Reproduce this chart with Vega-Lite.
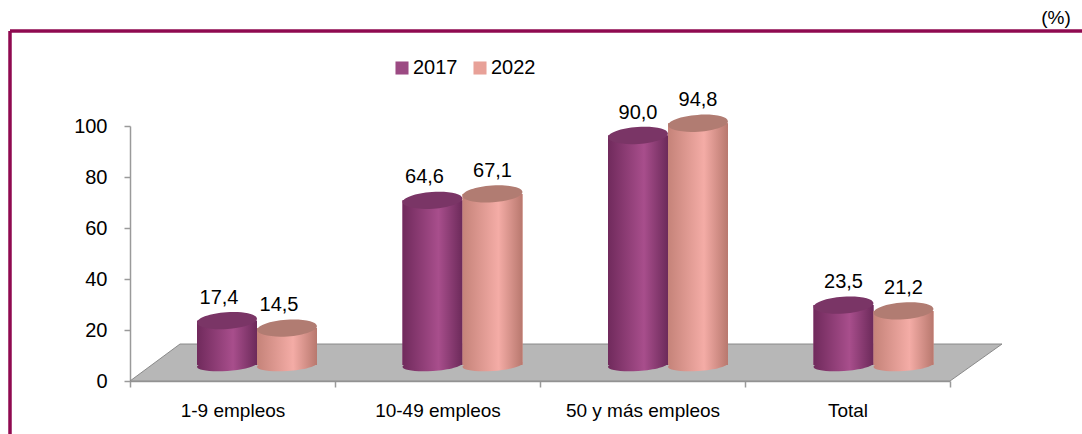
{
"$schema":"https://vega.github.io/schema/vega-lite/v6.json",
"width":820,"height":255,
"autosize":"none",
"padding":{"left":130,"top":126,"right":132,"bottom":53},
"background":"white",
"view":{"stroke":null},
"config":{"font":"Liberation Sans"},
"datasets":{
"bars":[
{"cat":"1-9 empleos","year":"2017","value":17.4,"label":"17,4"},
{"cat":"1-9 empleos","year":"2022","value":14.5,"label":"14,5"},
{"cat":"10-49 empleos","year":"2017","value":64.6,"label":"64,6"},
{"cat":"10-49 empleos","year":"2022","value":67.1,"label":"67,1"},
{"cat":"50 y más empleos","year":"2017","value":90.0,"label":"90,0"},
{"cat":"50 y más empleos","year":"2022","value":94.8,"label":"94,8"},
{"cat":"Total","year":"2017","value":23.5,"label":"23,5"},
{"cat":"Total","year":"2022","value":21.2,"label":"21,2"}
],
"floor":[{"u":0,"lo":0,"hi":0},{"u":50,"lo":0,"hi":14.5},{"u":820,"lo":0,"hi":14.5},{"u":872,"lo":14.5,"hi":14.5}]
},
"layer":[
{"data":{"values":[{"u":-120,"u2":952,"v":137.25,"v2":137.25},{"u":-120,"u2":-120,"v":137.25,"v2":-20.8}]},
 "mark":{"type":"rule","color":"#8f0a50","strokeWidth":3.5,"clip":false},
 "encoding":{"x":{"field":"u","type":"quantitative","scale":{"domain":[0,872],"range":[0,872]},"axis":null},
 "x2":{"field":"u2"},
 "y":{"field":"v","type":"quantitative","scale":{"domain":[0,100]},"axis":{"values":[0,20,40,60,80,100],"title":null,"grid":false,"domainColor":"#9a9a9a","domainWidth":1.5,"tickColor":"#9a9a9a","tickWidth":1.5,"tickSize":6,"labelFontSize":20,"labelColor":"#000","labelPadding":17}},
 "y2":{"field":"v2"}}},
{"data":{"name":"floor"},
 "mark":{"type":"area","color":"#b7b7b7","stroke":"#8a8a8a","strokeWidth":1,"opacity":1},
 "encoding":{"x":{"field":"u","type":"quantitative","scale":{"domain":[0,872],"range":[0,872]},"axis":null},
 "y":{"field":"lo","type":"quantitative"},
 "y2":{"field":"hi"}}},
{"data":{"name":"bars"},
 "mark":{"type":"text","opacity":0},
 "encoding":{"x":{"field":"cat","type":"nominal","sort":null,"scale":{"paddingInner":0,"paddingOuter":0},
 "axis":{"title":null,"labelAngle":0,"tickBand":"extent","domainColor":"#9a9a9a","domainWidth":1.5,"tickColor":"#9a9a9a","tickWidth":1.5,"tickSize":6,"labelFontSize":19,"labelColor":"#000","labelPadding":14}},
 "text":{"value":""}}},
{"data":{"name":"bars"},
 "mark":{"type":"bar","yOffset":-16,"y2Offset":-16},
 "encoding":{"x":{"field":"cat","type":"nominal","sort":null,"scale":{"paddingInner":0,"paddingOuter":0,"range":[24,846]},"axis":null},
 "xOffset":{"field":"year","scale":{"domain":["2017","2022"],"range":[43,163]}},
 "y":{"field":"value","type":"quantitative"},
 "fill":{"field":"year","type":"nominal","title":null,"scale":{"domain":["2017","2022"],"range":["#9c4a83","#e8a198"]},
  "legend":{"orient":"none","direction":"horizontal","legendX":262,"legendY":-68,"symbolType":"square","symbolSize":170,"symbolStrokeWidth":0,"labelFontSize":20,"labelColor":"#000","columns":2,"labelOffset":1,"columnPadding":12}}}},
{"data":{"name":"bars"},
 "transform":[{"filter":"datum.year==='2017'"}],
 "mark":{"type":"point","filled":true,"opacity":1,"shape":"M-1,0A1,0.2,0,1,0,1,0A1,0.2,0,1,0,-1,0Z","size":3600,"yOffset":-16,"angle":-4,"fill":{"x1":0,"x2":1,"y1":0,"y2":0,"gradient":"linear","stops":[{"offset":0,"color":"#702a5c"},{"offset":0.6,"color":"#a84e8c"},{"offset":1,"color":"#6c2a5a"}]}},
 "encoding":{"x":{"field":"cat","type":"nominal","sort":null,"scale":{"paddingInner":0,"paddingOuter":0,"range":[24,846]},"axis":null},
 "xOffset":{"field":"year"},
 "y":{"datum":0,"type":"quantitative"}}},
{"data":{"name":"bars"},
 "transform":[{"filter":"datum.year==='2017'"}],
 "mark":{"type":"bar","yOffset":-16,"y2Offset":-16,"fill":{"x1":0,"x2":1,"y1":0,"y2":0,"gradient":"linear","stops":[{"offset":0,"color":"#702a5c"},{"offset":0.6,"color":"#a84e8c"},{"offset":1,"color":"#6c2a5a"}]}},
 "encoding":{"x":{"field":"cat","type":"nominal","sort":null,"scale":{"paddingInner":0,"paddingOuter":0,"range":[24,846]},"axis":null},
 "xOffset":{"field":"year"},
 "y":{"field":"value","type":"quantitative"}}},
{"data":{"name":"bars"},
 "transform":[{"filter":"datum.year==='2017'"}],
 "mark":{"type":"point","filled":true,"opacity":1,"shape":"M-1,0A1,0.28,0,1,0,1,0A1,0.28,0,1,0,-1,0Z","size":3600,"yOffset":-16,"angle":-4,"fill":"#7a3566","stroke":null},
 "encoding":{"x":{"field":"cat","type":"nominal","sort":null,"scale":{"paddingInner":0,"paddingOuter":0,"range":[24,846]},"axis":null},
 "xOffset":{"field":"year"},
 "y":{"field":"value","type":"quantitative"}}},
{"data":{"name":"bars"},
 "transform":[{"filter":"datum.year==='2022'"}],
 "mark":{"type":"point","filled":true,"opacity":1,"shape":"M-1,0A1,0.2,0,1,0,1,0A1,0.2,0,1,0,-1,0Z","size":3600,"yOffset":-16,"angle":-4,"fill":{"x1":0,"x2":1,"y1":0,"y2":0,"gradient":"linear","stops":[{"offset":0,"color":"#c58379"},{"offset":0.6,"color":"#f4aca6"},{"offset":1,"color":"#b8786e"}]}},
 "encoding":{"x":{"field":"cat","type":"nominal","sort":null,"scale":{"paddingInner":0,"paddingOuter":0,"range":[24,846]},"axis":null},
 "xOffset":{"field":"year"},
 "y":{"datum":0,"type":"quantitative"}}},
{"data":{"name":"bars"},
 "transform":[{"filter":"datum.year==='2022'"}],
 "mark":{"type":"bar","yOffset":-16,"y2Offset":-16,"fill":{"x1":0,"x2":1,"y1":0,"y2":0,"gradient":"linear","stops":[{"offset":0,"color":"#c58379"},{"offset":0.6,"color":"#f4aca6"},{"offset":1,"color":"#b8786e"}]}},
 "encoding":{"x":{"field":"cat","type":"nominal","sort":null,"scale":{"paddingInner":0,"paddingOuter":0,"range":[24,846]},"axis":null},
 "xOffset":{"field":"year"},
 "y":{"field":"value","type":"quantitative"}}},
{"data":{"name":"bars"},
 "transform":[{"filter":"datum.year==='2022'"}],
 "mark":{"type":"point","filled":true,"opacity":1,"shape":"M-1,0A1,0.28,0,1,0,1,0A1,0.28,0,1,0,-1,0Z","size":3600,"yOffset":-16,"angle":-4,"fill":"#b17c72","stroke":null},
 "encoding":{"x":{"field":"cat","type":"nominal","sort":null,"scale":{"paddingInner":0,"paddingOuter":0,"range":[24,846]},"axis":null},
 "xOffset":{"field":"year"},
 "y":{"field":"value","type":"quantitative"}}},
{"data":{"name":"bars"},
 "transform":[{"filter":"datum.label!=='17,4' && datum.label!=='64,6' && datum.label!=='14,5'"}],
 "mark":{"type":"text","fontSize":20,"dy":-23,"color":"#000","yOffset":-16},
 "encoding":{"x":{"field":"cat","type":"nominal","sort":null,"scale":{"domain":["1-9 empleos","10-49 empleos","50 y más empleos","Total"],"paddingInner":0,"paddingOuter":0,"range":[24,846]},"axis":null},
 "xOffset":{"field":"year"},
 "y":{"field":"value","type":"quantitative"},
 "text":{"field":"label"}}},
{"data":{"name":"bars"},
 "transform":[{"filter":"datum.label==='17,4' || datum.label==='64,6' || datum.label==='14,5'"}],
 "mark":{"type":"text","fontSize":20,"dy":-23,"dx":-8,"color":"#000","yOffset":-16},
 "encoding":{"x":{"field":"cat","type":"nominal","sort":null,"scale":{"domain":["1-9 empleos","10-49 empleos","50 y más empleos","Total"],"paddingInner":0,"paddingOuter":0,"range":[24,846]},"axis":null},
 "xOffset":{"field":"year"},
 "y":{"field":"value","type":"quantitative"},
 "text":{"field":"label"}}},
{"data":{"values":[{"u":926,"v":142.5,"t":"(%)"}]},
 "mark":{"type":"text","fontSize":19,"color":"#000","clip":false},
 "encoding":{"x":{"field":"u","type":"quantitative","scale":{"domain":[0,872],"range":[0,872]},"axis":null},
 "y":{"field":"v","type":"quantitative"},
 "text":{"field":"t"}}}
],
"resolve":{"scale":{"x":"independent"}}
}
